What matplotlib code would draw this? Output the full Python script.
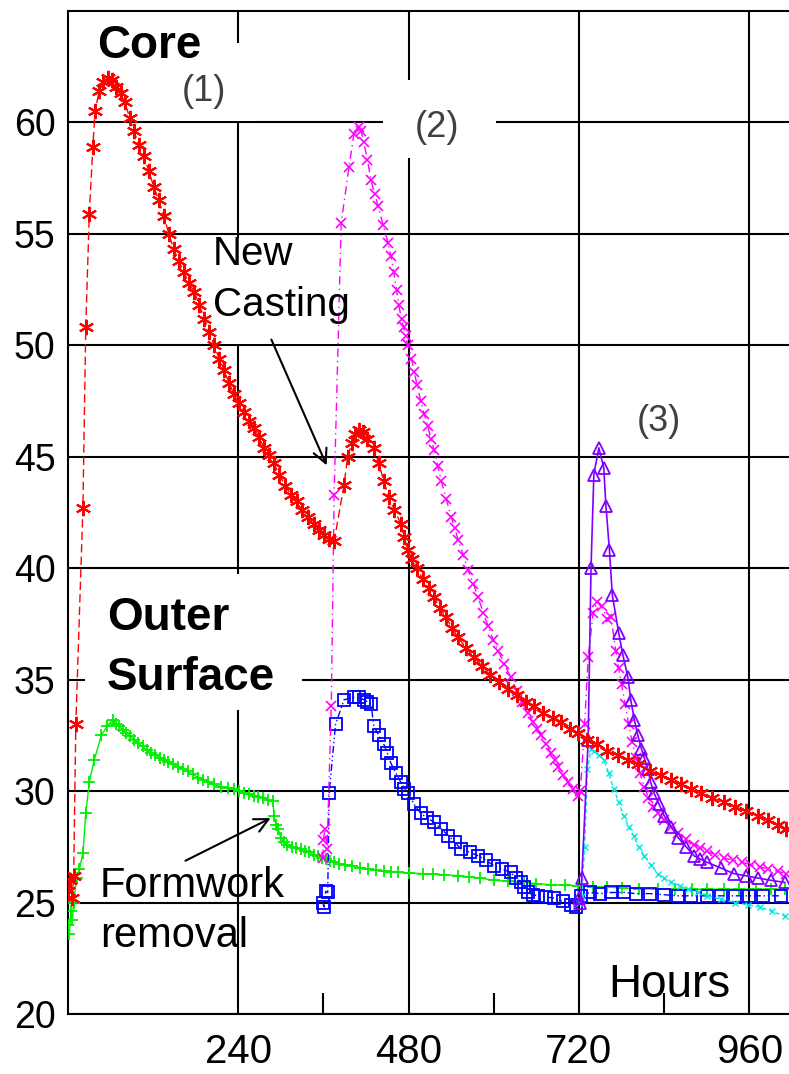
import matplotlib.pyplot as plt
from matplotlib.patches import Rectangle

plt.rcParams['font.family'] = ['Liberation Sans', 'DejaVu Sans']

# casting (1), core
core1_h = [0, 3, 6, 8, 11, 21, 25, 30, 35, 38, 44, 50, 56, 62, 68, 74, 80, 87, 93, 100,
           107, 114, 121, 128, 135, 142, 149, 156, 163, 170, 178, 185, 192, 199, 206, 213,
           220, 227, 234, 241, 248, 255, 262, 269, 276, 283, 290, 298, 306, 314, 322, 330,
           338, 347, 354, 361, 368, 375, 389, 394, 400, 405, 410, 416, 422, 431, 438, 445,
           452, 460, 469, 474, 479, 485, 492, 500, 508, 516, 524, 533, 541, 550, 561, 572,
           584, 595, 608, 620, 632, 645, 657, 670, 683, 695, 707, 719, 732, 745, 760, 775,
           789, 803, 820, 836, 850, 864, 878, 892, 908, 924, 940, 956, 972, 986, 1000, 1012]
core1_t = [25.5, 26.0, 25.2, 26.2, 33.0, 42.7, 50.8, 55.9, 58.9, 60.5, 61.4, 61.8, 62.0, 61.9,
           61.6, 61.3, 60.9, 60.2, 59.6, 59.0, 58.5, 57.8, 57.1, 56.5, 55.8, 55.0, 54.3, 53.8,
           53.3, 52.8, 52.4, 51.8, 51.2, 50.6, 50.0, 49.4, 48.9, 48.3, 47.8, 47.4, 47.0, 46.6,
           46.3, 45.9, 45.4, 45.1, 44.7, 44.2, 43.7, 43.3, 43.0, 42.6, 42.3, 42.0, 41.7, 41.5,
           41.3, 41.2, 43.75, 45.0, 45.6, 46.0, 46.2, 46.1, 45.8, 45.4, 44.7, 43.9, 43.2, 42.6,
           42.0, 41.4, 40.8, 40.4, 40.0, 39.5, 39.1, 38.7, 38.2, 37.8, 37.3, 36.9, 36.4, 36.0,
           35.6, 35.2, 34.9, 34.6, 34.3, 34.0, 33.8, 33.5, 33.3, 33.1, 32.8, 32.6, 32.3, 32.1,
           31.8, 31.6, 31.4, 31.2, 30.9, 30.7, 30.5, 30.3, 30.1, 29.9, 29.7, 29.5, 29.3, 29.1,
           28.9, 28.7, 28.5, 28.3]

# casting (1), outer surface
surf1_h = [0, 2, 4, 6, 8, 12, 16, 21, 25, 30, 37, 47, 55, 63, 68, 72, 77, 82, 88, 93, 99,
           105, 111, 117, 123, 129, 135, 141, 148, 155, 162, 169, 176, 183, 190, 197, 206, 215,
           225, 234, 241, 248, 255, 262, 268, 275, 282, 289, 290, 293, 296, 300, 304, 309, 315,
           321, 328, 334, 340, 346, 352, 358, 363, 369, 375, 382, 390, 400, 412, 423, 434, 445,
           455, 465, 480, 500, 515, 530, 550, 565, 580, 600, 620, 643, 660, 680, 700, 719, 740,
           760, 780, 805, 831, 855, 880, 900, 924, 945, 970, 990, 1010]
surf1_t = [24.0, 23.6, 24.6, 24.2, 25.0, 26.1, 26.5, 27.2, 29.0, 30.4, 31.4, 32.5, 32.9, 33.2,
           33.0, 32.9, 32.75, 32.6, 32.45, 32.3, 32.15, 32.0, 31.85, 31.7, 31.6, 31.5, 31.4,
           31.3, 31.2, 31.1, 31.0, 30.9, 30.75, 30.6, 30.5, 30.4, 30.3, 30.2, 30.15, 30.1, 30.0,
           29.9, 29.85, 29.8, 29.75, 29.7, 29.6, 29.55, 28.9, 28.5, 28.3, 27.9, 27.7, 27.6,
           27.5, 27.45, 27.4, 27.3, 27.25, 27.15, 27.1, 27.0, 26.95, 26.88, 26.8, 26.75, 26.7,
           26.65, 26.55, 26.5, 26.45, 26.4, 26.37, 26.35, 26.32, 26.3, 26.27, 26.25, 26.2,
           26.15, 26.1, 26.0, 25.95, 25.9, 25.85, 25.8, 25.78, 25.75, 25.7, 25.7, 25.65, 25.62,
           25.6, 25.6, 25.6, 25.6, 25.6, 25.6, 25.6, 25.6, 25.6]

# casting (2), core
core2_h = [359, 360, 362, 365, 371, 375, 385, 396, 403, 410, 413, 417, 422, 427, 432, 437, 444,
           451, 455, 459, 463, 466, 470, 473, 476, 479, 484, 488, 492, 497, 502, 507, 511, 516,
           521, 526, 533, 540, 545, 550, 557, 564, 571, 578, 585, 592, 599, 606, 615, 624, 632,
           640, 648, 655, 661, 667, 674, 680, 686, 691, 698, 705, 712, 719, 722, 728, 733, 740,
           746, 752, 760, 765, 772, 776, 780, 785, 790, 795, 800, 806, 812, 818, 825, 832, 840,
           850, 860, 871, 882, 891, 900, 912, 925, 937, 950, 962, 975, 987, 1000, 1012]
core2_t = [27.0, 27.8, 28.3, 27.4, 33.8, 43.3, 55.5, 58.0, 59.5, 59.8, 59.6, 59.1, 58.3, 57.4,
           56.8, 56.25, 55.4, 54.6, 54.0, 53.3, 52.5, 51.8, 51.2, 50.8, 50.4, 50.0, 49.4, 48.8,
           48.2, 47.5, 46.9, 46.4, 45.8, 45.3, 44.6, 43.9, 43.1, 42.3, 41.8, 41.25, 40.6, 39.9,
           39.3, 38.7, 38.0, 37.4, 36.8, 36.3, 35.7, 35.1, 34.5, 34.0, 33.5, 33.1, 32.8, 32.5,
           32.1, 31.7, 31.4, 31.1, 30.7, 30.4, 30.1, 29.8, 30.0, 33.0, 36.0, 38.0, 38.5, 38.3,
           37.7, 37.8, 36.3, 35.5, 34.8, 33.9, 33.0, 32.2, 31.5, 30.8, 30.2, 29.7, 29.3, 29.0,
           28.7, 28.4, 28.1, 27.85, 27.6, 27.45, 27.3, 27.15, 27.0, 26.9, 26.8, 26.7, 26.6,
           26.5, 26.4, 26.3]

# casting (2), outer surface
surf2_h = [359, 361, 363, 366, 368, 377, 389, 403, 410, 417, 422, 427, 431, 438, 445, 450, 455,
           462, 469, 474, 479, 488, 497, 506, 516, 526, 536, 545, 554, 566, 578, 589, 600, 612,
           624, 631, 638, 643, 648, 655, 662, 673, 685, 697, 709, 716, 723, 735, 750, 765, 784,
           800, 820, 840, 860, 878, 900, 920, 940, 960, 980, 1005]
surf2_t = [25.0, 24.8, 25.5, 25.45, 29.9, 33.0, 34.1, 34.2, 34.2, 34.1, 34.0, 33.9, 32.9, 32.5,
           32.1, 31.7, 31.25, 30.8, 30.4, 30.1, 29.9, 29.4, 29.0, 28.8, 28.6, 28.3, 28.0, 27.7,
           27.4, 27.25, 27.1, 26.9, 26.65, 26.5, 26.35, 26.1, 25.9, 25.7, 25.45, 25.35, 25.3,
           25.25, 25.2, 25.05, 24.9, 24.8, 25.3, 25.45, 25.4, 25.45, 25.45, 25.4, 25.4, 25.35,
           25.3, 25.3, 25.3, 25.3, 25.3, 25.3, 25.3, 25.3]

# casting (3), core
core3_h = [720, 722, 724, 733, 737, 741, 748, 755, 758, 763, 767, 776, 782, 789, 793, 798, 803,
           808, 812, 817, 821, 826, 833, 840, 850, 860, 871, 882, 891, 901, 920, 938, 955, 972,
           990, 1010]
core3_t = [25.2, 25.0, 26.1, 32.3, 40.0, 44.2, 45.4, 44.5, 42.8, 40.8, 38.8, 37.1, 36.1, 35.1,
           34.1, 33.2, 32.5, 31.9, 31.5, 31.0, 30.4, 29.9, 29.4, 28.9, 28.4, 27.9, 27.5, 27.1,
           26.95, 26.8, 26.55, 26.3, 26.2, 26.1, 26.0, 25.9]

# casting (3), outer surface
surf3_h = [720, 724, 728, 732, 737, 741, 748, 755, 762, 769, 776, 783, 790, 797, 804, 812, 821,
           831, 840, 850, 862, 874, 888, 901, 920, 940, 958, 975, 992, 1010]
surf3_t = [25.0, 25.3, 27.5, 31.0, 31.9, 31.8, 31.6, 31.4, 30.8, 30.1, 29.5, 28.9, 28.4, 28.0,
           27.5, 27.1, 26.7, 26.3, 26.1, 25.9, 25.75, 25.6, 25.45, 25.3, 25.15, 25.0, 24.9,
           24.8, 24.6, 24.4]

x_ticks = [240, 480, 720, 960]
x_minor = [360, 600, 840]
y_ticks = [20, 25, 30, 35, 40, 45, 50, 55, 60]

fig = plt.figure(figsize=(7.89, 10.74), dpi=100)
ax = fig.add_axes([0.0862, 0.0559, 0.9138, 0.9339])

# white boxes behind the pasted labels
for x0, y0, w, h in [(137, 60.07, 127, 3.5), (444, 58.4, 159, 3.5),
                     (196, 50.06, 216, 4.76), (24, 33.64, 306, 6.1)]:
    ax.add_patch(Rectangle((x0, y0), w, h, facecolor='white', edgecolor='none', zorder=2))

ax.plot(surf1_h, surf1_t, color='#00ee00', marker='+', ms=9, mew=1.3, lw=1, zorder=3)
ax.plot(surf2_h, surf2_t, color='#0000ff', marker='s', ms=9, mfc='none', mew=1.3, lw=1,
        dashes=(5, 2, 1, 2, 1, 2), zorder=3)
ax.plot(surf3_h, surf3_t, color='#00e8e8', marker='x', ms=5, mew=1, lw=1, dashes=(3, 2),
        zorder=3)
ax.plot(core2_h, core2_t, color='#ff00ff', marker='x', ms=7, mew=1.2, lw=1,
        dashes=(6, 3, 1, 3), zorder=3)
ax.plot(core3_h, core3_t, color='#8000ff', marker='^', ms=8, mfc='none', mew=1.3, lw=1.2,
        zorder=3)
ax.plot(core1_h, core1_t, color='#ff0000', marker=(6, 2, 0), ms=11, mew=1.5, lw=1,
        dashes=(6, 3), zorder=4)

ax.set_xlim(0, 1016)
ax.set_ylim(20, 65)
ax.set_xticks(x_ticks)
ax.set_xticks(x_minor, minor=True)
ax.set_yticks(y_ticks)
ax.grid(True, which='major', color='black', lw=1.5, zorder=1)
ax.set_axisbelow(True)
ax.tick_params(axis='x', which='major', length=0, pad=14, labelsize=29)
ax.tick_params(axis='x', which='minor', length=15, width=1.5, direction='in', color='black')
ax.tick_params(axis='y', length=0, pad=9, labelsize=27)
for s in ['left', 'top', 'bottom']:
    ax.spines[s].set_linewidth(1.5)
ax.spines['right'].set_visible(False)

ax.text(41, 62.9, 'Core', fontsize=33, fontweight='bold', zorder=5)
ax.text(192, 60.96, '(1)', fontsize=26, color='#404040', ha='center', zorder=5)
ax.text(520, 59.35, '(2)', fontsize=26, color='#404040', ha='center', zorder=5)
ax.text(833, 46.16, '(3)', fontsize=26, color='#404040', ha='center', zorder=5)
ax.text(204, 53.6, 'New', fontsize=29, zorder=5)
ax.text(204, 51.32, 'Casting', fontsize=29, zorder=5)
ax.text(55, 37.23, 'Outer', fontsize=33, fontweight='bold', zorder=5)
ax.text(55, 34.54, 'Surface', fontsize=33, fontweight='bold', zorder=5)
ax.text(45, 25.25, 'Formwork', fontsize=30, zorder=5)
ax.text(45, 23.0, 'removal', fontsize=30, zorder=5)
ax.text(761, 20.76, 'Hours', fontsize=33, zorder=5)

ax.annotate('', xy=(366, 44.5), xytext=(285, 50.37),
            arrowprops=dict(arrowstyle='->', color='black', lw=1.5, mutation_scale=25), zorder=6)
ax.annotate('', xy=(289, 28.84), xytext=(162, 26.82),
            arrowprops=dict(arrowstyle='->', color='black', lw=1.5, mutation_scale=25), zorder=6)

fig.savefig('out.png', dpi=100)
